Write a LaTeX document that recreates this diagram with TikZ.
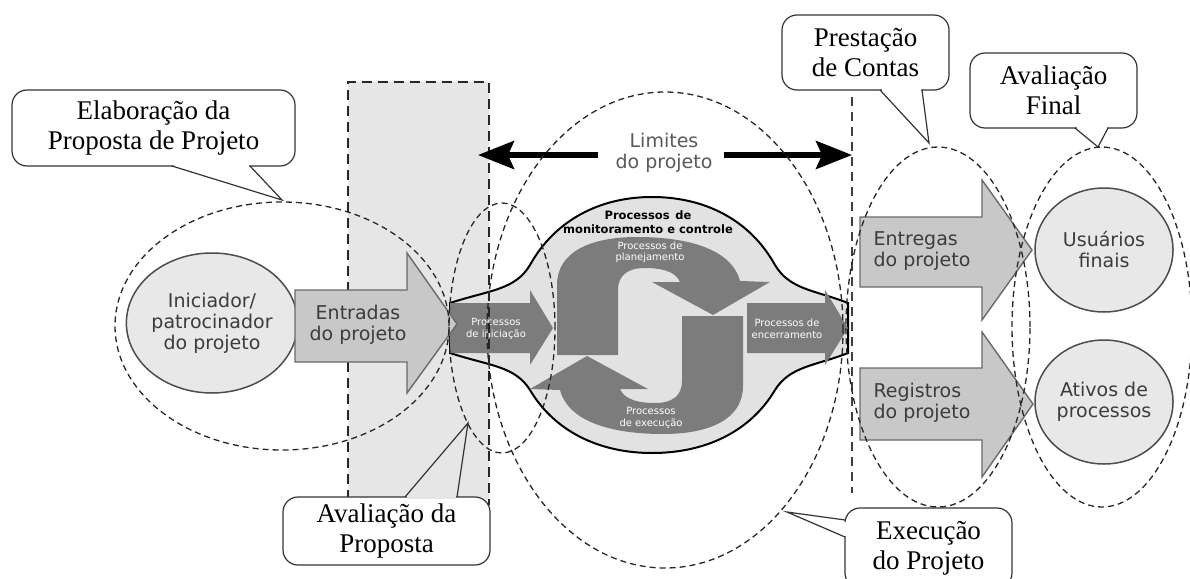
\documentclass[tikz,border=0pt]{standalone}
\usepackage{fontspec}
\setmainfont{Liberation Serif}
\newfontfamily\sansf{DejaVu Sans}
\usetikzlibrary{shapes.geometric,arrows.meta}
\definecolor{rectgray}{HTML}{E6E6E6}
\definecolor{blobgray}{HTML}{E2E2E2}
\definecolor{darkarr}{HTML}{7C7C7C}
\definecolor{lightarr}{HTML}{C8C8C8}
\definecolor{arredge}{HTML}{6A6A6A}
\definecolor{circfill}{HTML}{E8E8E8}
\definecolor{labelgray}{HTML}{3C3C3C}
\tikzset{
  ell/.style={draw=black!85, line width=1.3pt, dash pattern=on 6pt off 4pt},
  rectdash/.style={draw=black!85, line width=2.6pt, dash pattern=on 10pt off 6pt},
  vdash/.style={draw=black!75, line width=2pt, dash pattern=on 9pt off 6pt},
  cbox/.style={draw=black!80, line width=1.2pt, fill=white, rounded corners=15pt,
    font=\fontsize{27}{30}\selectfont, align=center, inner sep=0pt},
  ctail/.style={draw=black!80, line width=1.2pt},
  lbl/.style={font=\sansf\fontsize{19}{21}\selectfont, text=labelgray, align=center},
  wtxt/.style={font=\sansf\fontsize{10}{11.5}\selectfont, text=white, align=center},
  mono/.style={font=\sansf\bfseries\fontsize{11.5}{14.5}\selectfont, text=black, align=center},
  lightarrow/.style={fill=lightarr, draw=arredge, line width=1.4pt, line join=miter},
  darkarrow/.style={fill=darkarr, draw=none},
  circ/.style={ellipse, draw=black!70, line width=1.5pt, fill=circfill, lbl},
  bigarrow/.style={line width=5.5pt, -{Stealth[length=36pt,width=28pt,inset=6pt]}},
}
\begin{document}
\begin{tikzpicture}[x=1pt,y=-1pt]
\useasboundingbox (0,0) rectangle (1190,578);
\clip (0,0) rectangle (1190,578);

% gray proposal-evaluation strip
\fill[rectgray] (348,82) rectangle (489,500);

% monitoring blob
\draw[fill=blobgray, draw=black, line width=2pt]
  (450,303) .. controls (490,290) and (515,290) .. (530,265)
  .. controls (555,220) and (600,197) .. (652,197)
  .. controls (705,197) and (750,220) .. (775,265)
  .. controls (790,290) and (815,290) .. (848,303)
  -- (848,353)
  .. controls (815,366) and (790,366) .. (775,390)
  .. controls (750,432) and (705,453) .. (652,453)
  .. controls (600,453) and (555,432) .. (530,390)
  .. controls (515,366) and (490,366) .. (450,353) -- cycle;

% planning arrow (upper half of the S)
\fill[darkarr]
  (557,355) -- (557,285) .. controls (557,252) and (590,237) .. (637,237)
  .. controls (690,237) and (732,250) .. (740,281)
  -- (770,282) -- (713,315) -- (652,282) -- (680,282)
  .. controls (675,270) and (658,268) .. (645,268)
  .. controls (628,268) and (618,275) .. (618,290) -- (618,355) -- cycle;
% execution arrow (lower half, rotated copy)
\begin{scope}[rotate around={180:(650,335.5)}]
\fill[darkarr]
  (557,355) -- (557,285) .. controls (557,252) and (590,237) .. (637,237)
  .. controls (690,237) and (732,250) .. (740,281)
  -- (770,282) -- (713,315) -- (652,282) -- (680,282)
  .. controls (675,270) and (658,268) .. (645,268)
  .. controls (628,268) and (618,275) .. (618,290) -- (618,355) -- cycle;
\end{scope}

% initiation and closing arrows
\fill[darkarr] (450,303) -- (530,303) -- (530,290) -- (553,328) -- (530,365) -- (530,353) -- (450,353) -- cycle;
\fill[darkarr] (747,303) -- (825,303) -- (825,290) -- (848,328) -- (825,365) -- (825,353) -- (747,353) -- cycle;

\node[mono] (mon) at (648,222) {Processos\enspace de\\monitoramento e controle};
\node[wtxt] (plan) at (650,252) {Processos de\\planejamento};
\node[wtxt] (exec) at (651,418) {Processos\\de execução};
\node[wtxt] (init) at (496,329) {Processos\\de iniciação};
\node[wtxt] (close) at (787,329) {Processos de\\encerramento};

% dashed border of the strip
\draw[rectdash] (348,500) -- (348,82) -- (489,82) -- (489,505);

% left side
\node[circ, minimum width=156pt, minimum height=140pt, inner sep=0pt] (ini) at (212,323) {Iniciador/\\patrocinador\\do projeto};
\draw[lightarrow] (295,290) -- (407,290) -- (407,253) -- (457,324) -- (407,393) -- (407,362) -- (295,362) -- cycle;
\node[lbl] (entr) at (358,325) {Entradas\\do projeto};

% right side
\draw[lightarrow] (860,217) -- (982,217) -- (982,180) -- (1032,250) -- (982,320) -- (982,287) -- (860,287) -- cycle;
\node[lbl, align=left] (entg) at (922,251) {Entregas\\do projeto};
\draw[lightarrow] (860,368) -- (982,368) -- (982,332) -- (1033,404) -- (982,477) -- (982,440) -- (860,440) -- cycle;
\node[lbl, align=left] (regs) at (922,403) {Registros\\do projeto};
\node[circ, minimum width=138pt, minimum height=124pt, inner sep=0pt] (usu) at (1104,250) {Usuários\\finais};
\node[circ, minimum width=138pt, minimum height=124pt, inner sep=0pt] (ativ) at (1104,402) {Ativos de\\processos};

% project limits
\node[lbl, text=black!65] (lim) at (664,153) {Limites\\do projeto};
\coordinate (limL) at (478,155);
\coordinate (limR) at (852,155);
\draw[bigarrow] ([xshift=-14pt]lim.west |- limL) -- (limL);
\draw[bigarrow] ([xshift=8pt]lim.east |- limR) -- (limR);
\draw[vdash] (852,97) -- (852,493);

% dashed phase ellipses
\draw[ell] (282,326) ellipse [x radius=167pt, y radius=124pt];
\draw[ell] (502,328) ellipse [x radius=53pt, y radius=125pt];
\draw[ell] (665,330) ellipse [x radius=178pt, y radius=238pt];
\draw[ell] (938,327) ellipse [x radius=92pt, y radius=180pt];
\draw[ell] (1102,327) ellipse [x radius=90pt, y radius=180pt];

% callouts (box node, gap in the border, open tail)
\node[cbox, minimum width=283pt, minimum height=76pt] (c1) at (153.5,128) {Elaboração da\\Proposta de Projeto};
\fill[white] (173.5,164) rectangle (248.5,168);
\draw[ctail] (172,166) -- (282,200) -- (250,166);

\node[cbox, minimum width=207pt, minimum height=68pt] (c2) at (386.5,531) {Avaliação da\\Proposta};
\fill[rectgray] (406.5,495) rectangle (455.5,499);
\draw[ctail] (405,497) -- (468,423) -- (457,497);

\node[cbox, minimum width=167pt, minimum height=75pt] (c3) at (865.5,52.5) {Prestação\\de Contas};
\fill[white] (881.5,88) rectangle (920.5,92);
\draw[ctail] (880,90) -- (929,143) -- (922,90);

\node[cbox, minimum width=167pt, minimum height=75pt] (c4) at (1053.5,90.5) {Avaliação\\Final};
\fill[white] (1076.5,126) rectangle (1106.5,130);
\draw[ctail] (1075,128) -- (1098,147) -- (1108,128);

\node[cbox, minimum width=167pt, minimum height=80pt] (c5) at (928.5,548) {Execução\\do Projeto};
\fill[white] (843,521.5) rectangle (847,535.5);
\draw[ctail] (845,520) -- (787,512) -- (845,537);
\end{tikzpicture}
\end{document}
